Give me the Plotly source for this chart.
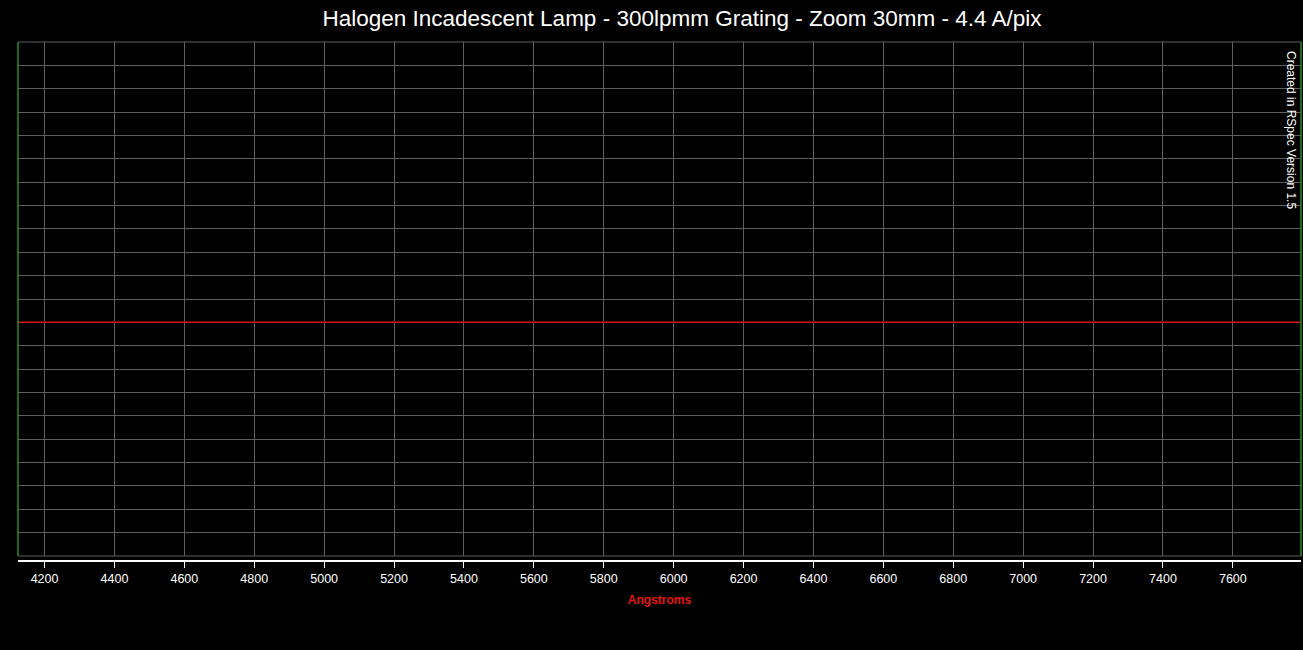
import plotly.graph_objects as go

# Data
wavelengths = [4124, 7795]
intensity = [0.5, 0.5]
tick_values = [4200, 4400, 4600, 4800, 5000, 5200, 5400, 5600, 5800, 6000,
               6200, 6400, 6600, 6800, 7000, 7200, 7400, 7600]
tick_labels = [str(v) for v in tick_values]
title_text = "Halogen Incadescent Lamp - 300lpmm Grating - Zoom 30mm - 4.4 A/pix"
x_title = "Angstroms"
credit = "Created in RSpec Version 1.5"

W, H = 1303, 650
L, R, T, B = 18, 2, 42, 650 - 561
paper_h = H - T - B
dom0 = 5 / paper_h

grid = "rgb(95,95,95)"
green = "rgb(40,140,40)"
font = "Liberation Sans, Arial, sans-serif"

fig = go.Figure()
fig.add_trace(go.Scatter(x=wavelengths, y=intensity, mode="lines",
                         line=dict(color="rgb(205,25,25)", width=1.5),
                         hoverinfo="skip", showlegend=False))

fig.update_layout(
    width=W, height=H,
    margin=dict(l=L, r=R, t=T, b=B, pad=0),
    paper_bgcolor="black", plot_bgcolor="black",
    font=dict(family=font, color="white", size=12),
    title=dict(text=title_text, font=dict(size=22.5, color="white", family=font),
               x=(682 - L) / (W - L - R), xref="paper", xanchor="center",
               y=1 - 18 / H, yref="container", yanchor="middle"),
    xaxis=dict(range=[wavelengths[0], wavelengths[1]], tickvals=tick_values, ticktext=tick_labels,
               showgrid=True, gridcolor=grid, gridwidth=1, zeroline=False,
               showline=True, linecolor="white", linewidth=2,
               ticks="outside", ticklen=6, tickwidth=1, tickcolor="white",
               tickfont=dict(size=12.5, color="white", family=font),
               anchor="free", position=0,
               title=dict(text="<b>" + x_title + "</b>", font=dict(size=12, color="rgb(230,20,20)", family=font),
                          standoff=10)),
    yaxis=dict(range=[0, 1.1], dtick=0.05, domain=[dom0, 1], showgrid=True, gridcolor=grid,
               gridwidth=1, zeroline=False, showticklabels=False, ticks="", showline=False),
    showlegend=False,
)

# plot frame: gray top/bottom, green sides
fig.add_shape(type="line", xref="x domain", yref="y domain", x0=0, x1=1, y0=1, y1=1,
              line=dict(color=grid, width=1))
fig.add_shape(type="line", xref="x domain", yref="y domain", x0=0, x1=1, y0=0, y1=0,
              line=dict(color=grid, width=1))
fig.add_shape(type="line", xref="x domain", yref="y domain", x0=0, x1=0, y0=0, y1=1,
              line=dict(color=green, width=1.5))
fig.add_shape(type="line", xref="x domain", yref="y domain", x0=1, x1=1, y0=0, y1=1,
              line=dict(color=green, width=1.5))

fig.add_annotation(text=credit, textangle=90, xref="paper", yref="paper",
                   x=(1291 - L) / (W - L - R), y=1 - (130 - T) / paper_h,
                   xanchor="center", yanchor="middle", showarrow=False,
                   font=dict(size=12, color="white", family=font))

fig.write_html("out.html", config={"displayModeBar": False},
               post_script="document.body.style.margin='0';document.body.style.background='black';")
